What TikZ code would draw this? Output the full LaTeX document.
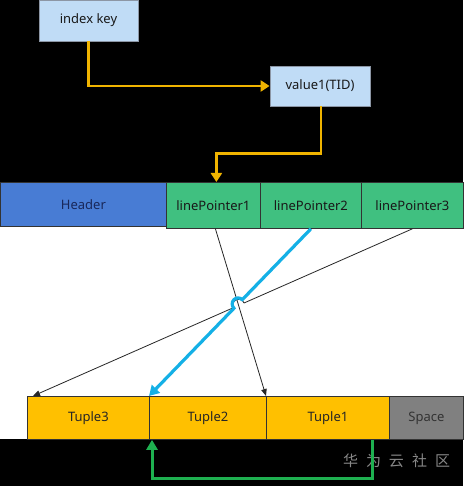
\documentclass[tikz,border=0pt]{standalone}
\usepackage{fontspec}
\setmainfont{Noto Sans}
\newfontfamily\cjk{Noto Sans CJK SC}
\usetikzlibrary{arrows.meta,calc,intersections}
\definecolor{keyfill}{RGB}{192,220,246}
\definecolor{keyline}{RGB}{140,150,165}
\definecolor{hdrfill}{RGB}{72,124,212}
\definecolor{hdrtext}{RGB}{25,40,90}
\definecolor{lpfill}{RGB}{64,192,128}
\definecolor{tpfill}{RGB}{255,192,0}
\definecolor{spfill}{RGB}{128,128,128}
\definecolor{orng}{RGB}{240,180,0}
\definecolor{skyb}{RGB}{20,176,230}
\definecolor{grn}{RGB}{30,176,80}
\definecolor{wmark}{RGB}{135,135,135}
\begin{document}
\begin{tikzpicture}[x=1pt,y=1pt,
  font=\fontsize{13}{15}\selectfont,
  keybox/.style={draw=keyline, line width=0.8pt, fill=keyfill, inner sep=0pt, text=black!90},
  cell/.style={draw=black!80, line width=0.8pt, inner sep=0pt, anchor=north west},
  orarrow/.style={draw=orng, line width=2.4pt, -{Triangle[length=9pt,width=11pt]}},
  thinarrow/.style={draw=black!85, line width=0.8pt, -{Triangle[length=7pt,width=5.5pt]}},
  bluearrow/.style={draw=skyb, line width=3.2pt, -{Triangle[length=10pt,width=11pt]}},
  grnarrow/.style={draw=grn, line width=3pt, -{Triangle[length=10pt,width=11pt]}}]
\fill[black] (0,0) rectangle (463,-486);
\useasboundingbox (0,0) rectangle (463,-486);
\fill[white] (0,-182) rectangle (463,-439);

\node[keybox, minimum width=99pt, minimum height=41pt] (key) at (88.5,-20.5) {index key};
\node[keybox, minimum width=100pt, minimum height=40pt] (val) at (320,-86) {value1(TID)};

\node[cell, fill=hdrfill, text=hdrtext, minimum width=166pt, minimum height=44pt] (hdr) at (0,-182) {Header};
\node[cell, fill=lpfill, text=black!90, minimum width=94pt, minimum height=46pt] (lp1) at (166,-182) {linePointer1};
\node[cell, fill=lpfill, text=black!90, minimum width=101pt, minimum height=46pt] (lp2) at (260,-182) {linePointer2};
\node[cell, fill=lpfill, text=black!90, minimum width=102pt, minimum height=46pt] (lp3) at (361,-182) {linePointer3};

\node[cell, fill=tpfill, text=black!85, minimum width=122pt, minimum height=43pt] (tp3) at (27,-396) {Tuple3};
\node[cell, fill=tpfill, text=black!85, minimum width=117pt, minimum height=43pt] (tp2) at (149,-396) {Tuple2};
\node[cell, fill=tpfill, text=black!85, minimum width=123pt, minimum height=43pt] (tp1) at (266,-396) {Tuple1};
\node[cell, fill=spfill, text=black!80, minimum width=74pt, minimum height=43pt] (sp) at (389,-396) {Space};

\node[text=wmark, font=\cjk\fontsize{15}{18}\selectfont] (wm) at (396.5,-461)
  {华\hspace{8pt}为\hspace{8pt}云\hspace{8pt}社\hspace{8pt}区};

% orange connectors
\draw[orarrow] (key.south) |- (val.west);
\draw[orarrow] ([xshift=1pt]val.south) -- ++(0,-47) -| ([xshift=3pt]lp1.north);

% pointers
\coordinate (a1) at ([xshift=2pt]lp1.south);
\draw[thinarrow, name path=pa] (a1) -- (tp1.north west);
\path[name path=pb] (lp2.south) -- (tp2.north west);
\coordinate (c2) at ([xshift=6pt]tp3.north west);
\path[name path=pc] (lp3.south) -- (c2);
\path[name intersections={of=pa and pb, by=xb}];
\path[name intersections={of=pa and pc, by=xc}];

\draw[thinarrow] let \p1=($(lp3.south)-(c2)$), \n1={atan2(\y1,\x1)} in
  (lp3.south) -- ($(xc)!6pt!(lp3.south)$) arc[start angle=\n1, delta angle=180, radius=6pt] -- (c2);
\draw[bluearrow] let \p1=($(lp2.south)-(tp2.north west)$), \n1={atan2(\y1,\x1)} in
  (lp2.south) -- ($(xb)!6pt!(lp2.south)$) arc[start angle=\n1, delta angle=180, radius=6pt] -- (tp2.north west);

% free space arrow
\draw[grnarrow] ([xshift=-17pt]tp1.south east) -- ++(0,-39) -| ([xshift=3pt]tp2.south west);
\end{tikzpicture}
\end{document}
